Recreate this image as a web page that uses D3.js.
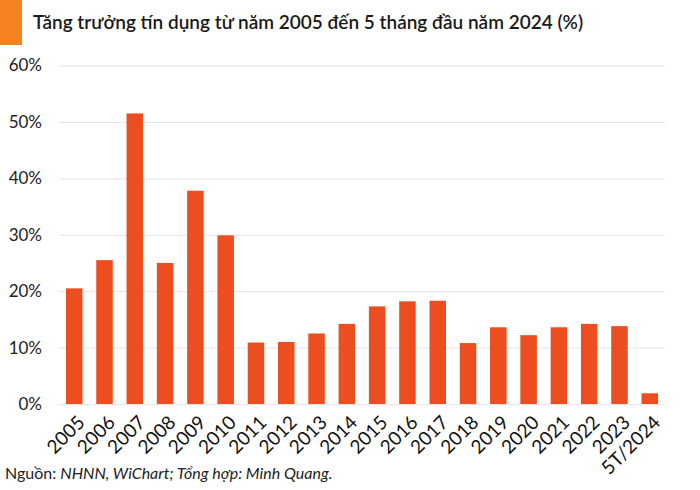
<!DOCTYPE html>
<html><head><meta charset="utf-8">
<script src="https://cdn.jsdelivr.net/npm/d3@7"></script>
<style>
body{margin:0;background:#fff;}
svg{display:block;font-family:Lato, "Noto Sans", sans-serif;}
</style></head>
<body><svg id="c" width="700" height="490"></svg>
<script>
const categories = ["2005","2006","2007","2008","2009","2010","2011","2012","2013","2014","2015","2016","2017","2018","2019","2020","2021","2022","2023","5T/2024"];
const values = [20.5,25.5,51.5,25.0,37.8,29.9,10.9,11.0,12.5,14.2,17.3,18.2,18.3,10.8,13.6,12.2,13.6,14.2,13.8,1.9];
const yTicks = [0,10,20,30,40,50,60];
const title = "Tăng trưởng tín dụng từ năm 2005 đến 5 tháng đầu năm 2024 (%)";

const svg = d3.select("#c");
const mLeft = 59, mRight = 665, mTop = 65.5, mBottom = 404;
const x = d3.scaleBand().domain(categories).range([mLeft, mRight]).paddingInner(0.455).paddingOuter(0.23);
const y = d3.scaleLinear().domain([0, 60]).range([mBottom, mTop]);

svg.append("rect").attr("x",0).attr("y",0).attr("width",22).attr("height",45).attr("fill","#F58220");
svg.append("text").attr("x",33).attr("y",29).attr("font-size",19).attr("font-weight",600).attr("fill","#1a1a1a").text(title);

// grid + y axis
const yAxis = d3.axisLeft(y).tickValues(yTicks).tickSize(-(mRight-mLeft)).tickFormat(d => d + "%");
const gy = svg.append("g").attr("transform",`translate(${mLeft},0)`).call(yAxis);
gy.select(".domain").remove();
gy.selectAll(".tick line").attr("stroke","#e3e3e3").attr("stroke-width",1);
gy.selectAll(".tick text").attr("x",-17).attr("font-size",17).attr("fill","#222").attr("font-family","Lato");

// bars
svg.append("g").selectAll("rect").data(values).join("rect")
  .attr("x",(d,i)=>x(categories[i]))
  .attr("width",x.bandwidth())
  .attr("y",d=>y(d))
  .attr("height",d=>mBottom-y(d))
  .attr("fill","#EC4E20");

// x axis
const gx = svg.append("g").attr("transform",`translate(0,${mBottom})`).call(d3.axisBottom(x).tickSize(0));
gx.select(".domain").remove();
gx.selectAll(".tick text")
  .attr("font-size",19).attr("fill","#111").attr("font-family","Lato")
  .attr("text-anchor","end").attr("x",0).attr("y",0).attr("dy","0.35em")
  .attr("transform","translate(7,15) rotate(-45)");

// footer
const f = svg.append("text").attr("x",5).attr("y",479).attr("font-size",16).attr("fill","#222");
f.append("tspan").text("Nguồn: ");
f.append("tspan").attr("font-style","italic").text("NHNN, WiChart; Tổng hợp: Minh Quang.");
</script></body></html>
